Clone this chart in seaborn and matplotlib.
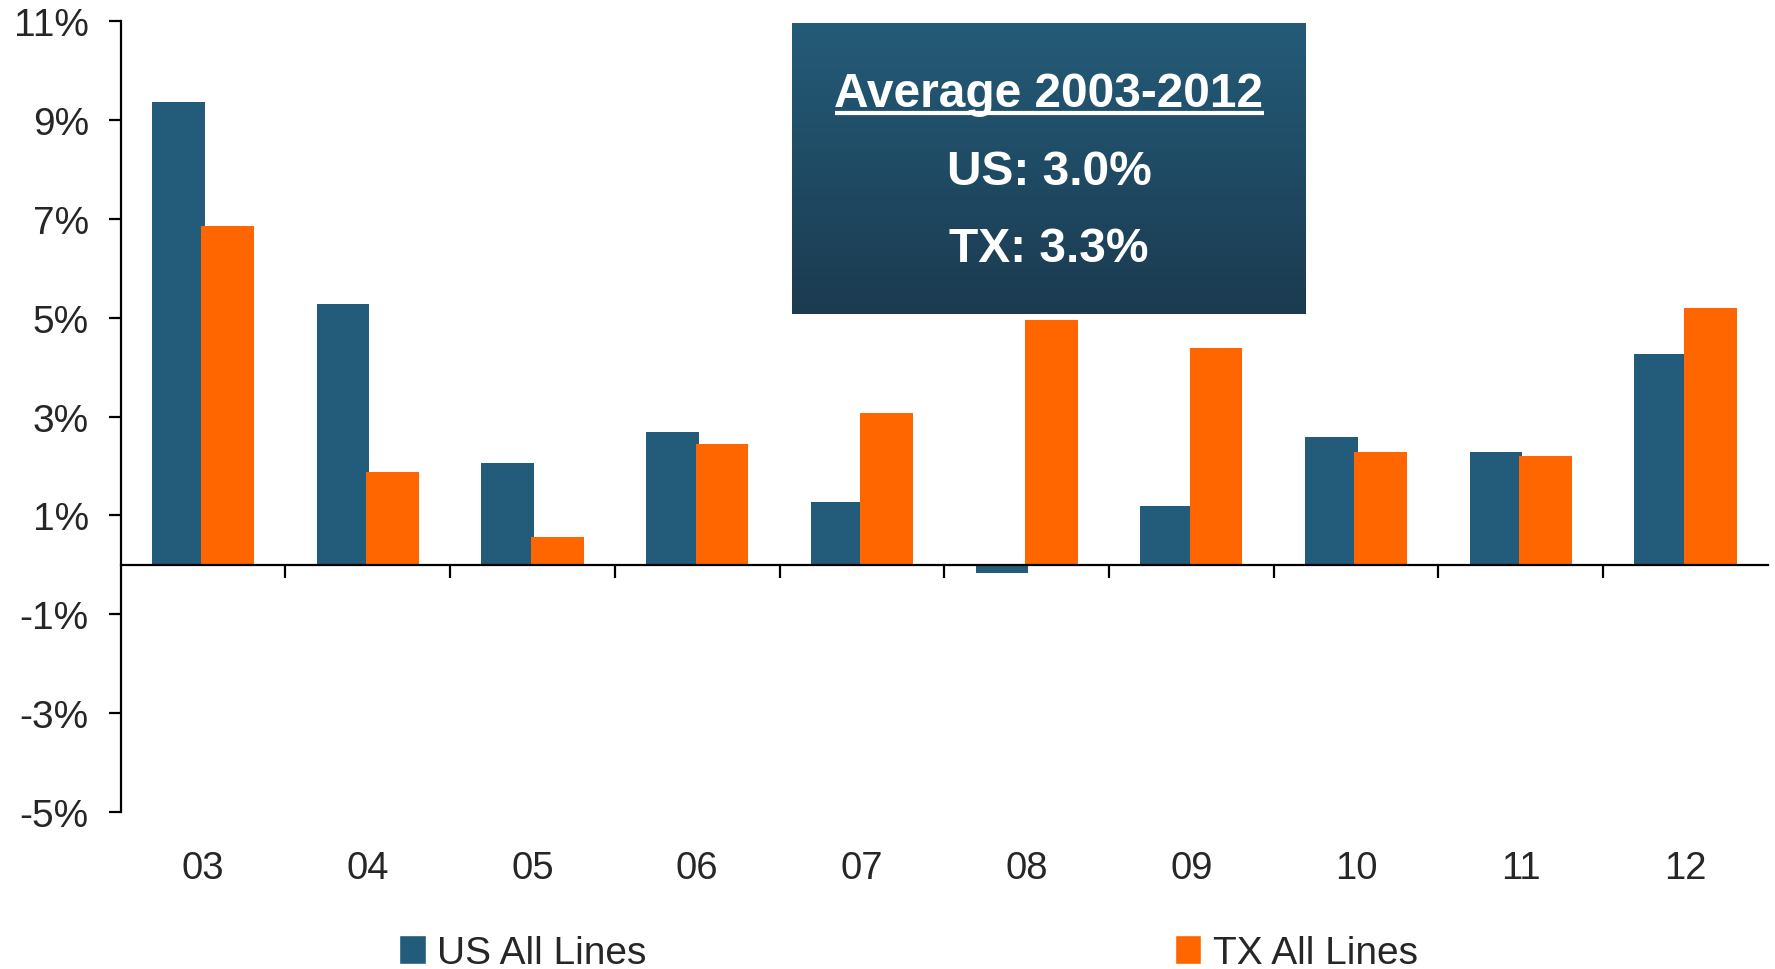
import numpy as np
import pandas as pd
import matplotlib.pyplot as plt
import seaborn as sns
from matplotlib.colors import to_rgb
from matplotlib.patches import Patch

# chart data
years = ['03', '04', '05', '06', '07', '08', '09', '10', '11', '12']
us_vals = [9.36, 5.27, 2.06, 2.68, 1.28, -0.16, 1.19, 2.59, 2.29, 4.27]
tx_vals = [6.86, 1.88, 0.57, 2.45, 3.07, 4.95, 4.38, 2.29, 2.20, 5.20]
series_names = ['US All Lines', 'TX All Lines']
y_ticks = [-5, -3, -1, 1, 3, 5, 7, 9, 11]
box_lines = ['Average 2003-2012', 'US: 3.0%', 'TX: 3.3%']

colors = ['#235B7A', '#FF6600']

df = pd.DataFrame({
    'year': years * 2,
    'series': [series_names[0]] * len(years) + [series_names[1]] * len(years),
    'value': us_vals + tx_vals,
})

sns.set_style('white')
plt.rcParams['font.family'] = ['Liberation Sans', 'DejaVu Sans']

fig = plt.figure(figsize=(17.75, 9.7), dpi=100)
ax = fig.add_axes([0.068, 0.162, 0.928, 0.815])

sns.barplot(data=df, x='year', y='value', hue='series', palette=colors,
            width=0.6, saturation=1, errorbar=None, legend=False, ax=ax)

# bars slightly wider so each pair just touches
for p in ax.patches:
    w = p.get_width()
    p.set_x(p.get_x() - 0.01)
    p.set_width(w + 0.02)
    p.set_edgecolor('none')

ax.set_xlim(-0.5, len(years) - 0.5)
ax.set_ylim(-5, 11)
ax.set_yticks(y_ticks)
ax.set_yticklabels([f'{t}%' for t in y_ticks])
ax.set_xlabel('')
ax.set_ylabel('')

ax.spines['top'].set_visible(False)
ax.spines['right'].set_visible(False)
ax.spines['bottom'].set_position(('data', 0))
for s in ['left', 'bottom']:
    ax.spines[s].set_color('black')
    ax.spines[s].set_linewidth(1.6)

# boundary ticks on the zero line, category labels at the bottom
ax.set_xticks(np.arange(0.5, len(years) - 0.5), labels=[''] * (len(years) - 1))
ax.set_xticks(np.arange(len(years)), labels=years, minor=True)
ax.tick_params(axis='x', which='major', bottom=True, direction='out', length=9,
               width=1.6, color='black')
ax.tick_params(axis='x', which='minor', bottom=True, labelbottom=True, length=0,
               pad=205, labelsize=27.5)
ax.tick_params(axis='y', direction='out', left=True, length=9, width=1.6,
               color='black', pad=14, labelsize=28)

# legend
handles = [Patch(facecolor=c, label=n) for c, n in zip(colors, series_names)]
fig.legend(handles=handles, loc='center', bbox_to_anchor=(0.512, 0.016), ncol=2,
           frameon=False, prop={'family': ['Liberation Sans Narrow', 'Liberation Sans'], 'size': 28},
           handlelength=0.67, handleheight=0.77, handletextpad=0.3, columnspacing=13.6)

# gradient box with averages
bax = fig.add_axes([792 / 1775, 1 - 315 / 970, 514 / 1775, 291 / 970])
top_c = np.array(to_rgb('#245B78'))
bot_c = np.array(to_rgb('#1B3B50'))
grad = np.linspace(0, 1, 256)[:, None, None]
img = top_c + (bot_c - top_c) * grad
bax.imshow(img, aspect='auto', extent=[0, 1, 0, 1], origin='upper')
bax.set_xlim(0, 1)
bax.set_ylim(0, 1)
bax.set_axis_off()

t_head = bax.text(0.5, 0.715, box_lines[0], ha='center', va='baseline', color='white',
                  fontsize=34.5, fontweight='bold')
bax.text(0.5, 0.447, box_lines[1], ha='center', va='baseline', color='white',
         fontsize=34.5, fontweight='bold')
bax.text(0.5, 0.182, box_lines[2], ha='center', va='baseline', color='white',
         fontsize=34.5, fontweight='bold')

# underline the heading
fig.canvas.draw()
bb = t_head.get_window_extent().transformed(bax.transAxes.inverted())
bax.plot([bb.x0, bb.x1], [0.692, 0.692], color='white', lw=3, solid_capstyle='butt')

fig.savefig('out.png', dpi=100)
